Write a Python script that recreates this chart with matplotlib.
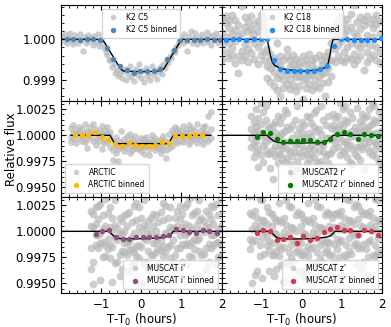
import numpy as np
import matplotlib
matplotlib.use("Agg")
import matplotlib.pyplot as plt
from matplotlib.ticker import MultipleLocator, AutoMinorLocator, FormatStrFormatter

# ---------------- K2 C5 ----------------
c5_t = [-1.97, -1.93, -1.89, -1.85, -1.81, -1.77, -1.73, -1.69, -1.65, -1.61,
        -1.57, -1.53, -1.49, -1.45, -1.41, -1.37, -1.33, -1.29, -1.25, -1.21,
        -1.17, -1.13, -1.09, -1.05, -1.01, -0.97, -0.93, -0.89, -0.85, -0.81,
        -0.77, -0.73, -0.69, -0.65, -0.61, -0.57, -0.53, -0.49, -0.45, -0.41,
        -0.37, -0.33, -0.29, -0.25, -0.21, -0.17, -0.13, -0.09, -0.05, -0.01,
        0.03, 0.07, 0.11, 0.15, 0.19, 0.23, 0.27, 0.31, 0.35, 0.39,
        0.43, 0.47, 0.51, 0.55, 0.59, 0.63, 0.67, 0.71, 0.75, 0.79,
        0.83, 0.87, 0.91, 0.95, 0.99, 1.03, 1.07, 1.11, 1.15, 1.19,
        1.23, 1.27, 1.31, 1.35, 1.39, 1.43, 1.47, 1.51, 1.55, 1.59,
        1.63, 1.67, 1.71, 1.75, 1.79, 1.83, 1.87, 1.91, 1.95, 1.99]
c5_f = [1.00008, 0.99995, 1.00012, 0.99990, 1.00003, 1.00015, 0.99996, 0.99988, 1.00010, 1.00002,
        0.99992, 1.00014, 0.99998, 0.99972, 1.00006, 0.99990, 1.00011, 0.99996, 1.00004, 0.99986,
        1.00009, 0.99994, 1.00013, 0.99983, 1.00002, 0.99992, 0.99978, 0.99970, 0.99962, 0.99948,
        0.99950, 0.99932, 0.99938, 0.99918, 0.99925, 0.99910, 0.99918, 0.99905, 0.99922, 0.99928,
        0.99900, 0.99915, 0.99935, 0.99908, 0.99920, 0.99896, 0.99926, 0.99912, 0.99940, 0.99904,
        0.99922, 0.99895, 0.99930, 0.99910, 0.99918, 0.99900, 0.99935, 0.99912, 0.99925, 0.99902,
        0.99920, 0.99932, 0.99915, 0.99938, 0.99930, 0.99948, 0.99942, 0.99960, 0.99955, 0.99972,
        0.99968, 0.99982, 0.99985, 0.99995, 1.00005, 0.99990, 1.00012, 0.99996, 0.99972, 1.00008,
        1.00020, 0.99992, 1.00004, 1.00015, 0.99988, 1.00006, 0.99996, 1.00012, 0.99990, 1.00003,
        1.00018, 0.99994, 1.00008, 0.99986, 1.00010, 1.00000, 1.00016, 0.99992, 1.00006, 0.99998]
c5_bin_t = [-1.858, -1.692, -1.525, -1.358, -1.192, -1.025, -0.858, -0.692, -0.525, -0.358,
            -0.192, -0.025, 0.142, 0.308, 0.475, 0.642, 0.808, 0.975, 1.142, 1.308,
            1.475, 1.642, 1.808, 1.975]
c5_bin_f = [1.00000, 1.00000, 0.99999, 1.00000, 1.00000, 0.99999, 0.99979, 0.99952, 0.99934, 0.99924,
            0.99917, 0.99922, 0.99922, 0.99922, 0.99928, 0.99951, 0.99973, 0.99998, 0.99999, 0.99999,
            0.99999, 1.00002, 0.99998, 0.99998]
c5_mod_t = [-2.0, -0.98, -0.92, -0.52, -0.45, 0.0, 0.5, 0.57, 0.96, 1.02, 2.0]
c5_mod_f = [1.0, 1.0, 0.99993, 0.99928, 0.99922, 0.99920, 0.99922, 0.99928, 0.99993, 1.0, 1.0]

# ---------------- K2 C18 ----------------
c18_t = [-1.98, -1.90, -1.82, -1.74, -1.66, -1.58, -1.50, -1.42, -1.34, -1.26,
         -1.18, -1.10, -1.02, -0.94, -0.86, -0.78, -0.70, -0.62, -0.54, -0.46,
         -0.38, -0.30, -0.22, -0.14, -0.06, 0.02, 0.10, 0.18, 0.26, 0.34,
         0.42, 0.50, 0.58, 0.66, 0.74, 0.82, 0.90, 0.98, 1.06, 1.14,
         1.22, 1.30, 1.38, 1.46, 1.54, 1.62, 1.70, 1.78, 1.86, 1.94]
c18_f = [[1.00052, 1.00018, 0.99985, 0.99948], [1.00040, 1.00005, 0.99968, 1.00058],
         [1.00028, 0.99955, 1.00045, 0.99992], [1.00012, 0.99962, 1.00060, 0.99978],
         [1.00048, 1.00022, 0.99942, 0.99995], [1.00035, 0.99958, 1.00008, 0.99918],
         [1.00082, 1.00015, 0.99972, 0.99950], [1.00055, 0.99988, 0.99960, 1.00030],
         [1.00020, 0.99945, 1.00042, 0.99975], [1.00058, 1.00002, 0.99966, 1.00025],
         [1.00038, 0.99952, 0.99990, 1.00012], [1.00046, 1.00020, 0.99940, 0.99980],
         [1.00060, 0.99995, 0.99962, 1.00032], [1.00030, 0.99970, 1.00050, 0.99948],
         [1.00015, 0.99975, 0.99935, 0.99905], [0.99965, 0.99930, 0.99895, 0.99950],
         [0.99955, 0.99920, 0.99885, 0.99940], [0.99945, 0.99905, 0.99875, 0.99990],
         [0.99960, 0.99912, 0.99860, 0.99935], [0.99950, 0.99925, 0.99880, 0.99900],
         [0.99958, 0.99915, 0.99890, 0.99975], [0.99948, 0.99902, 0.99878, 0.99932],
         [0.99962, 0.99918, 0.99888, 0.99940], [0.99952, 0.99928, 0.99872, 0.99908],
         [0.99945, 0.99910, 0.99884, 0.99935], [0.99958, 0.99920, 0.99852, 0.99900],
         [0.99950, 0.99905, 0.99880, 0.99938], [0.99965, 0.99922, 0.99890, 0.99912],
         [0.99948, 0.99915, 0.99876, 0.99936], [0.99955, 0.99900, 0.99885, 0.99928],
         [0.99962, 0.99925, 0.99880, 0.99910], [0.99950, 0.99915, 0.99892, 0.99940],
         [0.99958, 0.99920, 0.99860, 0.99935], [0.99968, 0.99930, 0.99895, 0.99948],
         [0.99990, 0.99950, 0.99910, 1.00020], [1.00030, 0.99975, 0.99945, 1.00005],
         [1.00045, 1.00010, 0.99960, 0.99985], [1.00055, 0.99995, 0.99950, 1.00028],
         [1.00038, 1.00012, 0.99968, 0.99945], [1.00050, 0.99980, 0.99955, 1.00022],
         [1.00062, 1.00030, 0.99990, 0.99952], [1.00085, 1.00015, 0.99965, 0.99940],
         [1.00042, 0.99985, 0.99948, 1.00008], [1.00055, 1.00025, 0.99960, 0.99978],
         [1.00035, 0.99992, 0.99925, 1.00048], [1.00058, 1.00010, 0.99970, 0.99945],
         [1.00092, 1.00040, 0.99985, 0.99955], [1.00050, 1.00005, 0.99962, 1.00028],
         [1.00038, 0.99980, 0.99950, 1.00060], [1.00045, 1.00015, 0.99968, 0.99942]]
c18_bin_t = [-1.89, -1.725, -1.558, -1.39, -1.2, -1.017, -0.867, -0.7, -0.533, -0.367,
             -0.2, -0.033, 0.133, 0.3, 0.467, 0.633, 0.8, 0.967, 1.133, 1.3,
             1.467, 1.633, 1.8, 1.967]
c18_bin_f = [0.99999, 1.00000, 1.00000, 0.99999, 1.00000, 1.00001, 1.00000, 0.99949, 0.99928, 0.99923,
             0.99922, 0.99921, 0.99921, 0.99923, 0.99927, 0.99933, 0.99983, 1.00000, 1.00002, 0.99999,
             0.99998, 0.99998, 0.99999, 1.00003]
c18_mod_t = [-2.0, -0.86, -0.83, -0.78, -0.74, -0.68, -0.5, 0.0, 0.45, 0.62, 0.66, 0.70, 0.74, 0.78, 2.0]
c18_mod_f = [1.0, 1.0, 0.99985, 0.9996, 0.99945, 0.99936, 0.99927, 0.99921, 0.99925, 0.99932,
             0.99942, 0.9996, 0.99985, 1.0, 1.0]

# ---------------- ARCTIC ----------------
arc_t = [-1.76, -1.69, -1.62, -1.55, -1.48, -1.41, -1.34, -1.27, -1.20, -1.13,
         -1.06, -0.99, -0.92, -0.85, -0.78, -0.71, -0.64, -0.57, -0.50, -0.43,
         -0.36, -0.29, -0.22, -0.15, -0.08, -0.01, 0.06, 0.13, 0.20, 0.27,
         0.34, 0.41, 0.48, 0.55, 0.62, 0.69, 0.76, 0.83, 0.90, 0.97,
         1.04, 1.11, 1.18, 1.25, 1.32, 1.39, 1.46, 1.53, 1.60, 1.67, 1.74]
arc_f = [[1.00070, 0.99985, 0.99940], [1.00025, 0.99960, 1.00095], [1.00050, 0.99930, 1.00010],
         [0.99975, 1.00080, 1.00030], [1.00060, 0.99950, 0.99990], [1.00105, 1.00015, 0.99935],
         [0.99965, 1.00045, 0.99880], [1.00075, 0.99990, 1.00020], [1.00035, 0.99945, 1.00110],
         [0.99975, 1.00060, 0.99905], [1.00040, 0.99995, 0.99950], [1.00090, 1.00010, 0.99870],
         [0.99960, 1.00050, 0.99925], [1.00020, 0.99940, 1.00075], [0.99985, 0.99890, 1.00035],
         [0.99950, 0.99860, 0.99760], [0.99910, 0.99980, 0.99830], [0.99945, 0.99870, 0.99750],
         [0.99890, 1.00040, 0.99935], [0.99960, 0.99850, 0.99905], [0.99875, 0.99990, 0.99925],
         [0.99940, 0.99830, 1.00010], [0.99895, 0.99965, 0.99860], [0.99930, 0.99880, 0.99995],
         [0.99865, 0.99950, 0.99910], [0.99920, 0.99845, 0.99975], [0.99960, 0.99890, 0.99825],
         [0.99900, 0.99985, 0.99935], [0.99870, 0.99940, 0.99815], [0.99955, 0.99895, 1.00005],
         [0.99915, 0.99855, 0.99970], [0.99880, 0.99945, 0.99910], [0.99965, 0.99870, 0.99830],
         [0.99900, 0.99990, 0.99935], [0.99945, 0.99860, 0.99785], [0.99925, 1.00010, 0.99880],
         [0.99975, 0.99900, 1.00050], [1.00030, 0.99945, 1.00080], [0.99980, 1.00065, 0.99925],
         [1.00045, 0.99950, 1.00010], [1.00085, 0.99990, 0.99935], [0.99960, 1.00055, 1.00020],
         [1.00030, 0.99915, 1.00095], [0.99985, 1.00070, 0.99945], [1.00050, 0.99965, 1.00005],
         [1.00110, 0.99995, 0.99930], [0.99955, 1.00040, 0.99980], [1.00075, 0.99920, 1.00015],
         [1.00035, 0.99960, 1.00090], [1.00190, 1.00010, 0.99945], [1.00220, 1.00060, 0.99975]]
arc_bin_t = [-1.65, -1.483, -1.317, -1.15, -0.983, -0.817, -0.65, -0.483, -0.317, -0.15,
             0.017, 0.183, 0.35, 0.517, 0.683, 0.85, 1.017, 1.183, 1.35, 1.517]
arc_bin_f = [1.00000, 1.00006, 1.00000, 1.00031, 0.99988, 0.99951, 0.99917, 0.99895, 0.99929, 0.99907,
             0.99898, 0.99901, 0.99907, 0.99932, 0.99926, 0.99994, 0.99994, 0.99994, 1.00012, 1.00006]
arc_mod_t = [-1.75, -0.78, -0.66, 0.68, 0.80, 1.73]
arc_mod_f = [1.0, 1.0, 0.9992, 0.9992, 1.0, 1.0]

# ---------------- MUSCAT2 r' ----------------
m2r_t = [-1.26, -1.20, -1.14, -1.08, -1.02, -0.96, -0.90, -0.84, -0.78, -0.72,
         -0.66, -0.60, -0.54, -0.48, -0.42, -0.36, -0.30, -0.24, -0.18, -0.12,
         -0.06, 0.00, 0.06, 0.12, 0.18, 0.24, 0.30, 0.36, 0.42, 0.48,
         0.54, 0.60, 0.66, 0.72, 0.78, 0.84, 0.90, 0.96, 1.02, 1.08,
         1.14, 1.20, 1.26, 1.32, 1.38, 1.44, 1.50, 1.56, 1.62, 1.68,
         1.74, 1.80, 1.86, 1.92, 1.98]
m2r_f = [[1.0006, 0.9989, 1.0019, 0.9997], [0.9992, 1.0013, 0.9979, 1.0002], [1.0025, 0.9995, 1.0009, 0.9984],
         [0.9987, 1.0004, 0.9970, 1.0017], [1.0011, 0.9981, 1.0001, 1.0031], [0.9998, 1.0022, 0.9991, 0.9974],
         [1.0015, 0.9986, 1.0028, 0.9994], [0.9982, 1.0008, 0.9999, 1.0035], [0.9996, 0.9969, 1.0007, 0.9983],
         [0.9986, 1.0010, 0.9958, 0.9998], [1.0013, 0.9990, 0.9980, 1.0003], [0.9982, 1.0019, 0.9997, 0.9973],
         [0.9999, 0.9982, 1.0012, 0.9990], [1.0018, 0.9988, 1.0002, 0.9977], [1.0004, 0.9974, 0.9994, 1.0024],
         [1.0008, 0.9979, 1.0021, 0.9987], [0.9985, 1.0006, 0.9972, 0.9995], [0.9980, 0.9997, 0.9963, 1.0010],
         [0.9991, 1.0015, 0.9984, 0.9967], [0.9975, 1.0001, 0.9992, 1.0028], [0.9996, 0.9969, 1.0007, 0.9983],
         [1.0013, 0.9990, 0.9980, 1.0003], [0.9986, 1.0010, 0.9962, 0.9998], [0.9982, 1.0019, 0.9997, 0.9973],
         [1.0018, 0.9988, 1.0002, 0.9977], [0.9999, 0.9982, 1.0012, 0.9990], [1.0008, 0.9979, 1.0021, 0.9987],
         [1.0004, 0.9974, 0.9994, 1.0024], [0.9985, 1.0006, 0.9972, 0.9995], [0.9975, 1.0001, 0.9992, 1.0028],
         [0.9991, 1.0015, 0.9984, 0.9967], [0.9980, 0.9997, 0.9965, 1.0010], [0.9982, 1.0019, 0.9997, 0.9973],
         [0.9996, 0.9969, 1.0007, 0.9983], [1.0020, 0.9997, 0.9987, 1.0010], [0.9993, 1.0017, 0.9966, 1.0005],
         [1.0006, 0.9989, 1.0019, 0.9997], [1.0011, 0.9981, 1.0001, 1.0031], [1.0025, 0.9995, 1.0009, 0.9984],
         [1.0015, 0.9986, 1.0028, 0.9994], [0.9992, 1.0013, 0.9979, 1.0002], [0.9998, 1.0022, 0.9991, 0.9974],
         [0.9987, 1.0004, 0.9972, 1.0017], [0.9982, 1.0008, 0.9999, 1.0035], [0.9989, 1.0026, 1.0004, 0.9980],
         [1.0003, 0.9976, 1.0014, 0.9990], [1.0020, 0.9997, 0.9987, 1.0010], [0.9993, 1.0017, 0.9968, 1.0005],
         [1.0006, 0.9989, 1.0019, 0.9997], [1.0025, 0.9995, 1.0009, 0.9984], [1.0011, 0.9981, 1.0001, 1.0031],
         [1.0015, 0.9986, 1.0028, 0.9994], [0.9992, 1.0013, 0.9979, 1.0002], [0.9998, 1.0022, 0.9991, 0.9974],
         [0.9987, 1.0004, 0.9970, 1.0017]]
m2r_bin_t = [-1.125, -0.958, -0.792, -0.625, -0.458, -0.292, -0.125, 0.042, 0.208, 0.375,
             0.542, 0.708, 0.875, 1.042, 1.208, 1.392, 1.558, 1.725, 1.892]
m2r_bin_f = [0.99981, 1.00031, 1.00019, 0.99963, 0.99932, 0.99941, 0.99941, 0.99951, 0.99957, 0.99935,
             0.99932, 0.99966, 1.00015, 1.00031, 1.00015, 0.99969, 1.00009, 1.00006, 0.99991]
m2r_mod_t = [-2.0, -0.86, -0.80, -0.70, -0.60, -0.50, 0.0, 0.50, 0.60, 0.68, 0.74, 0.78, 2.0]
m2r_mod_f = [1.0, 1.0, 0.99975, 0.99945, 0.99932, 0.99928, 0.99926, 0.9993, 0.99938, 0.99958, 0.9998, 1.0, 1.0]

# ---------------- MUSCAT i' ----------------
mi_t = [-1.26, -1.20, -1.14, -1.08, -1.02, -0.96, -0.90, -0.84, -0.78, -0.72,
        -0.66, -0.60, -0.54, -0.48, -0.42, -0.36, -0.30, -0.24, -0.18, -0.12,
        -0.06, 0.00, 0.06, 0.12, 0.18, 0.24, 0.30, 0.36, 0.42, 0.48,
        0.54, 0.60, 0.66, 0.72, 0.78, 0.84, 0.90, 0.96, 1.02, 1.08,
        1.14, 1.20, 1.26, 1.32, 1.38, 1.44, 1.50, 1.56, 1.62, 1.68,
        1.74, 1.80, 1.86, 1.92, 1.98]
mi_f = [[0.9984, 1.0005, 0.9964, 1.0020], [1.0004, 0.9971, 1.0017, 0.9949], [1.0007, 0.9987, 1.0023, 0.9996],
        [1.0024, 0.9996, 0.9984, 1.0012], [0.9998, 1.0026, 0.9989, 0.9953], [0.9990, 1.0016, 0.9975, 1.0002],
        [0.9987, 1.0031, 1.0005, 0.9976], [1.0018, 0.9983, 1.0034, 0.9993], [1.0023, 0.9987, 1.0004, 0.9974],
        [0.9985, 1.0013, 0.9951, 0.9999], [1.0006, 0.9970, 0.9994, 1.0030], [0.9971, 1.0003, 0.9992, 1.0035],
        [0.9977, 0.9998, 0.9957, 1.0013], [0.9997, 0.9964, 1.0010, 0.9981], [1.0000, 0.9980, 1.0016, 0.9989],
        [1.0017, 0.9989, 0.9977, 1.0005], [0.9991, 1.0019, 0.9982, 0.9962], [0.9983, 1.0009, 0.9968, 0.9995],
        [0.9980, 1.0024, 0.9998, 0.9969], [1.0011, 0.9976, 1.0027, 0.9986], [1.0023, 0.9987, 1.0004, 0.9974],
        [0.9985, 1.0013, 0.9950, 0.9999], [1.0006, 0.9970, 0.9994, 1.0030], [0.9971, 1.0003, 0.9992, 1.0035],
        [0.9997, 0.9964, 1.0010, 0.9981], [0.9977, 0.9998, 0.9957, 1.0013], [1.0017, 0.9989, 0.9977, 1.0005],
        [1.0000, 0.9980, 1.0016, 0.9989], [0.9983, 1.0009, 0.9968, 0.9995], [0.9991, 1.0019, 0.9982, 0.9962],
        [1.0011, 0.9976, 1.0027, 0.9986], [0.9980, 1.0024, 0.9998, 0.9955], [0.9985, 1.0013, 0.9951, 0.9999],
        [1.0023, 0.9987, 1.0004, 0.9974], [0.9971, 1.0003, 0.9992, 1.0035], [1.0013, 0.9977, 1.0001, 1.0037],
        [0.9984, 1.0005, 0.9964, 1.0020], [1.0024, 0.9996, 0.9984, 1.0012], [1.0004, 0.9971, 1.0017, 0.9988],
        [1.0007, 0.9987, 1.0023, 0.9996], [0.9998, 1.0026, 0.9989, 0.9969], [0.9987, 1.0031, 1.0005, 0.9976],
        [0.9990, 1.0016, 0.9975, 1.0002], [1.0018, 0.9983, 1.0034, 0.9993], [0.9992, 1.0020, 0.9958, 1.0006],
        [1.0030, 0.9994, 1.0011, 0.9981], [1.0013, 0.9977, 1.0001, 1.0037], [0.9978, 1.0010, 0.9999, 1.0042],
        [0.9984, 1.0005, 0.9964, 1.0020], [1.0004, 0.9971, 1.0017, 0.9988], [1.0024, 0.9996, 0.9984, 1.0012],
        [1.0007, 0.9987, 1.0023, 0.9996], [0.9998, 1.0026, 0.9989, 0.9969], [0.9990, 1.0016, 0.9975, 1.0002],
        [0.9987, 1.0031, 1.0005, 0.9976]]
mi_bin_t = [-1.133, -0.967, -0.8, -0.633, -0.467, -0.3, -0.133, 0.033, 0.2, 0.367,
            0.533, 0.7, 0.867, 1.033, 1.2, 1.367, 1.533, 1.7, 1.883]
mi_bin_f = [0.99978, 1.00000, 1.00016, 0.99941, 0.99928, 0.99925, 0.99947, 0.99941, 0.99941, 0.99944,
            0.99959, 0.99969, 1.00025, 1.00009, 0.99991, 0.99988, 1.00009, 1.00006, 0.99988]
mi_mod_t = [-2.0, -0.80, -0.74, -0.66, -0.58, -0.30, 0.10, 0.40, 0.60, 0.70, 0.76, 0.80, 2.0]
mi_mod_f = [1.0, 1.0, 0.99975, 0.99945, 0.99932, 0.99928, 0.9993, 0.99936, 0.99945, 0.99955, 0.9998, 1.0, 1.0]

# ---------------- MUSCAT z' ----------------
mz_t = [-1.29, -1.23, -1.17, -1.11, -1.05, -0.99, -0.93, -0.87, -0.81, -0.75,
        -0.69, -0.63, -0.57, -0.51, -0.45, -0.39, -0.33, -0.27, -0.21, -0.15,
        -0.09, -0.03, 0.03, 0.09, 0.15, 0.21, 0.27, 0.33, 0.39, 0.45,
        0.51, 0.57, 0.63, 0.69, 0.75, 0.81, 0.87, 0.93, 0.99, 1.05,
        1.11, 1.17, 1.23, 1.29, 1.35, 1.41, 1.47, 1.53, 1.59, 1.65,
        1.71, 1.77, 1.83, 1.89, 1.95]
mz_f = [[1.0018, 0.9983, 1.0034, 0.9993], [0.9990, 1.0016, 0.9950, 1.0002], [0.9992, 1.0020, 0.9958, 1.0006],
        [1.0013, 0.9962, 1.0001, 1.0037], [0.9987, 1.0031, 1.0005, 0.9976], [1.0030, 0.9994, 1.0011, 0.9955],
        [0.9978, 1.0010, 0.9999, 1.0042], [1.0007, 0.9987, 1.0023, 0.9996], [0.9991, 1.0019, 0.9982, 0.9962],
        [1.0017, 0.9989, 0.9977, 1.0005], [0.9977, 0.9998, 0.9957, 1.0013], [0.9997, 0.9964, 1.0010, 0.9981],
        [1.0011, 0.9976, 1.0027, 0.9986], [0.9983, 1.0009, 0.9968, 0.9995], [0.9985, 1.0013, 0.9951, 0.9999],
        [1.0006, 0.9970, 0.9994, 1.0030], [0.9980, 1.0024, 0.9998, 0.9969], [1.0023, 0.9987, 1.0004, 0.9974],
        [0.9971, 1.0003, 0.9992, 1.0035], [1.0000, 0.9980, 1.0016, 0.9989], [0.9991, 1.0019, 0.9982, 0.9962],
        [1.0017, 0.9989, 0.9977, 1.0005], [0.9977, 0.9998, 0.9957, 1.0013], [0.9997, 0.9964, 1.0010, 0.9981],
        [1.0011, 0.9976, 1.0027, 0.9986], [0.9983, 1.0009, 0.9968, 0.9995], [0.9985, 1.0013, 0.9951, 0.9999],
        [1.0006, 0.9970, 0.9994, 1.0030], [0.9980, 1.0024, 0.9998, 0.9969], [1.0023, 0.9987, 1.0004, 0.9974],
        [0.9971, 1.0003, 0.9992, 1.0035], [1.0000, 0.9980, 1.0016, 0.9989], [0.9991, 1.0019, 0.9982, 0.9962],
        [1.0017, 0.9989, 0.9977, 1.0005], [0.9977, 0.9998, 0.9957, 1.0013], [1.0004, 0.9971, 1.0017, 0.9988],
        [1.0018, 0.9983, 1.0034, 0.9993], [0.9990, 1.0016, 0.9975, 1.0002], [0.9992, 1.0020, 0.9958, 1.0006],
        [1.0013, 0.9977, 1.0001, 1.0037], [0.9987, 1.0031, 1.0005, 0.9976], [1.0030, 0.9994, 1.0011, 0.9981],
        [0.9978, 1.0010, 0.9999, 1.0042], [1.0007, 0.9987, 1.0023, 0.9996], [0.9998, 1.0026, 0.9989, 0.9969],
        [1.0024, 0.9996, 0.9984, 1.0012], [0.9984, 1.0005, 0.9964, 1.0020], [1.0004, 0.9971, 1.0017, 0.9988],
        [1.0018, 0.9983, 1.0034, 0.9958], [0.9990, 1.0016, 0.9975, 1.0002], [0.9992, 1.0020, 0.9958, 1.0006],
        [1.0013, 0.9977, 1.0001, 1.0037], [0.9987, 1.0031, 1.0005, 0.9976], [1.0030, 0.9994, 1.0011, 0.9981],
        [0.9978, 1.0010, 0.9999, 1.0042]]
mz_bin_t = [-1.125, -0.958, -0.792, -0.625, -0.458, -0.292, -0.125, 0.042, 0.208, 0.375,
            0.542, 0.708, 0.875, 1.042, 1.208, 1.392, 1.558, 1.725, 1.892]
mz_bin_f = [0.99984, 1.00016, 1.00000, 0.99919, 0.99925, 0.99947, 0.99891, 0.99959, 0.99916, 0.99938,
            0.99994, 1.00025, 1.00044, 1.00016, 1.00016, 0.99965, 1.00016, 1.00006, 0.99969]
mz_mod_t = [-2.0, -0.78, -0.72, -0.64, -0.56, -0.30, 0.10, 0.40, 0.62, 0.72, 0.78, 0.82, 2.0]
mz_mod_f = [1.0, 1.0, 0.99975, 0.99945, 0.99932, 0.99926, 0.99928, 0.99934, 0.99945, 0.99958, 0.9998, 1.0, 1.0]

panels = [
    ("K2 C5", c5_t, c5_f, c5_bin_t, c5_bin_f, c5_mod_t, c5_mod_f, "#4f86b4", "upper center", 4.5),
    ("K2 C18", c18_t, c18_f, c18_bin_t, c18_bin_f, c18_mod_t, c18_mod_f, "#1e8fff", "upper center", 5.8),
    ("ARCTIC", arc_t, arc_f, arc_bin_t, arc_bin_f, arc_mod_t, arc_mod_f, "#ffb900", "lower left", 4.8),
    ("MUSCAT2 r'", m2r_t, m2r_f, m2r_bin_t, m2r_bin_f, m2r_mod_t, m2r_mod_f, "#008000", "lower right", 5.6),
    ("MUSCAT i'", mi_t, mi_f, mi_bin_t, mi_bin_f, mi_mod_t, mi_mod_f, "#8d4f80", "lower right", 5.6),
    ("MUSCAT z'", mz_t, mz_f, mz_bin_t, mz_bin_f, mz_mod_t, mz_mod_f, "#d13a50", "lower right", 5.6),
]

fs = 8.5

fig, axes = plt.subplots(3, 2, figsize=(3.91, 3.27), dpi=100, sharex=True)
fig.subplots_adjust(left=0.156, right=0.977, top=0.985, bottom=0.104, hspace=0, wspace=0)

for k, (name, t, f, bt, bf, mt, mf, col, loc, gms) in enumerate(panels):
    ax = axes[k // 2, k % 2]
    f = np.array(f)
    if f.ndim == 2:
        tt = np.repeat(t, f.shape[1])
        ff = f.ravel()
    else:
        tt, ff = np.array(t), f
    ax.plot(tt, ff, 'o', color='#b8b8b8', alpha=0.7, ms=gms, mec='none', label=name, zorder=1)
    ax.plot(mt, mf, '-', color='k', lw=1.0, zorder=2)
    ax.plot(bt, bf, 'o', color=col, ms=3.9, mec='none', label=name + " binned", zorder=3)
    leg = ax.legend(loc=loc, fontsize=5.5, framealpha=0.8, borderpad=0.5, handletextpad=0.6)
    leg.legend_handles[0].set_markersize(4.0)

    ax.set_xlim(-2, 2)
    ax.xaxis.set_major_locator(MultipleLocator(1))
    ax.xaxis.set_minor_locator(AutoMinorLocator(5))
    ax.tick_params(which='both', direction='in', top=True, right=True, labelsize=fs)
    ax.tick_params(which='major', length=3.5)
    ax.tick_params(which='minor', length=2)
    if k // 2 == 0:
        ax.set_ylim(0.99848, 1.00085)
        ax.yaxis.set_major_locator(MultipleLocator(0.001))
        ax.yaxis.set_minor_locator(AutoMinorLocator(5))
        ax.yaxis.set_major_formatter(FormatStrFormatter('%.3f'))
    else:
        ax.set_ylim(0.99408, 1.0033)
        ax.yaxis.set_major_locator(MultipleLocator(0.0025))
        ax.yaxis.set_minor_locator(AutoMinorLocator(5))
        ax.yaxis.set_major_formatter(FormatStrFormatter('%.4f'))
    if k % 2 == 1:
        ax.tick_params(labelleft=False)
    if k // 2 == 2:
        ax.set_xticks([-1, 0, 1, 2])
        ax.set_xlabel("T-T$_0$ (hours)", fontsize=fs, labelpad=1)

fig.text(0.030, 0.545, "Relative flux", rotation=90, va='center', ha='center', fontsize=fs)

fig.savefig("out.png", dpi=100)
